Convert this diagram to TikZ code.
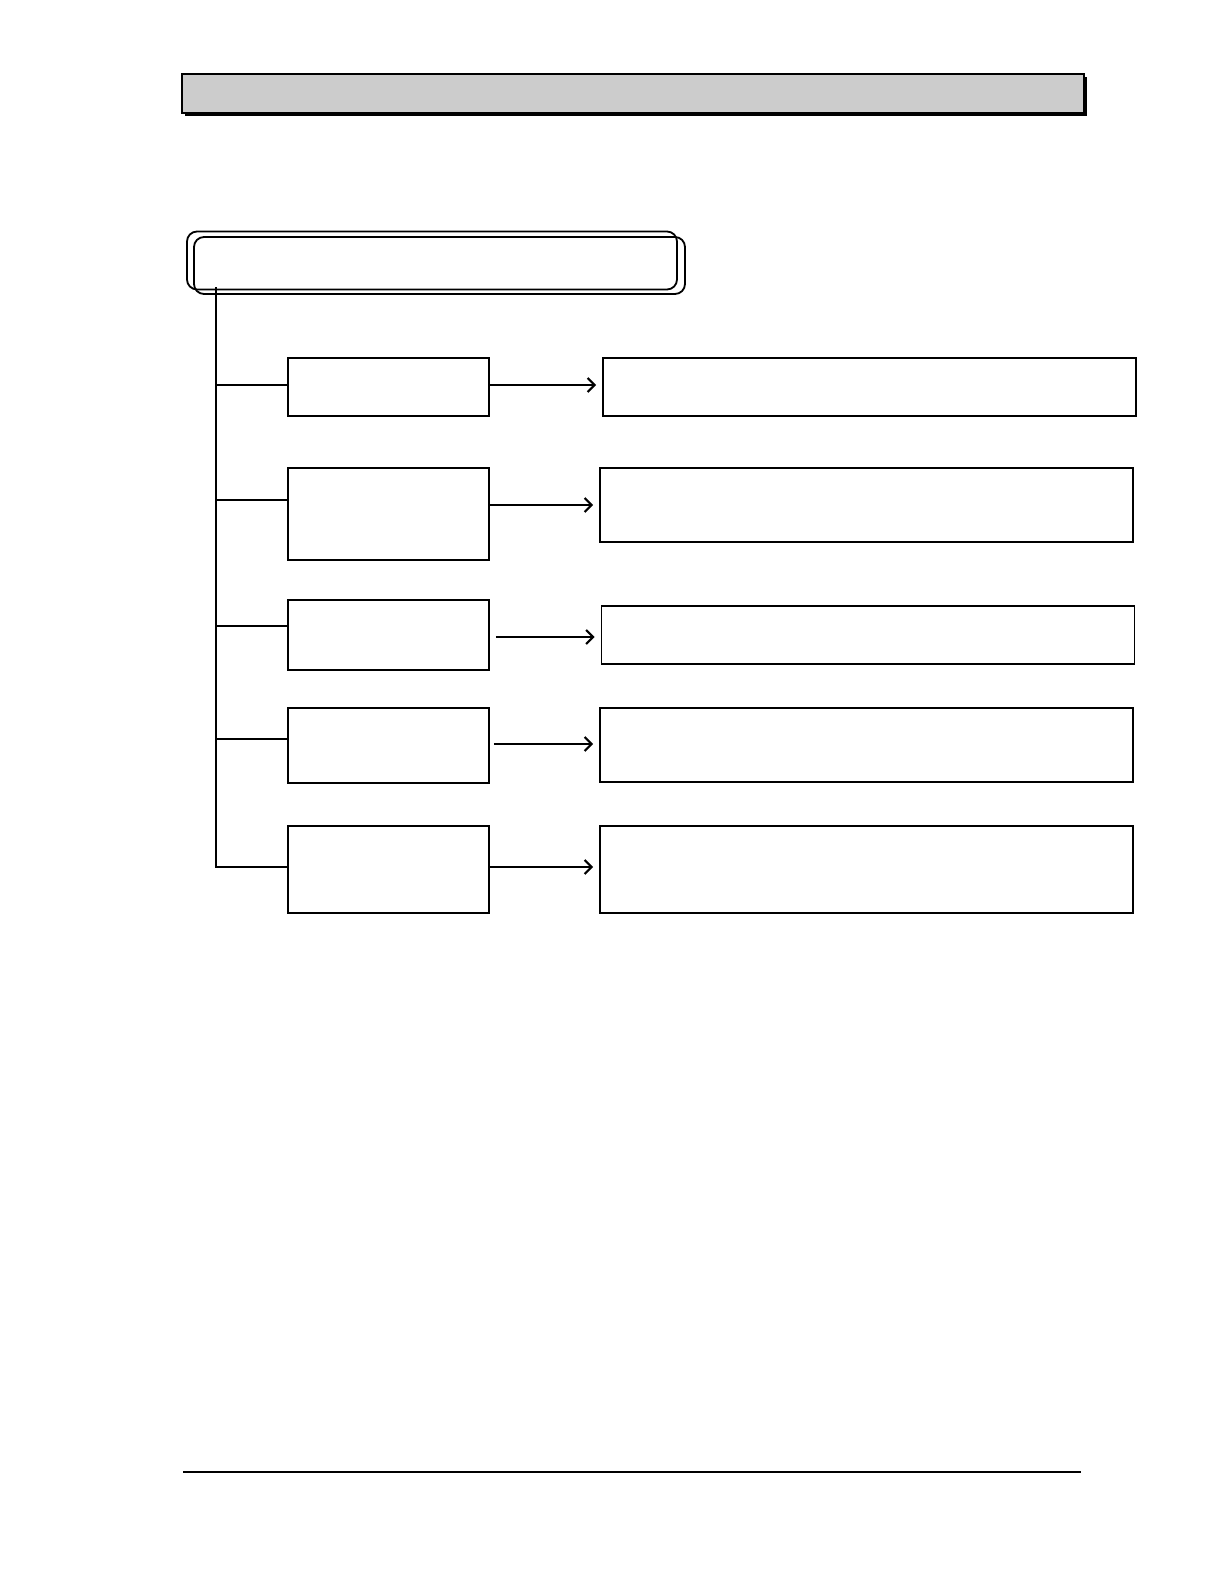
\documentclass[tikz,border=0pt]{standalone}
\usepackage{tikz}
\usetikzlibrary{arrows.meta, positioning, shadows}

\begin{document}
\begin{tikzpicture}[
    x=0.5pt, y=-0.5pt,
    titlebar/.style={draw, line width=0.6pt, fill=black!20, minimum width=451pt, minimum height=19.5pt,
        drop shadow={shadow xshift=1.5pt, shadow yshift=-1.5pt, opacity=1, fill=black}},
    roundbox/.style={draw, line width=0.9pt, rounded corners=5pt, minimum width=245pt, minimum height=29pt},
    leftbox/.style={draw, line width=0.8pt, minimum width=100.5pt},
    rightbox/.style={draw, line width=0.8pt, minimum width=266.5pt},
    link/.style={line width=0.6pt},
    pointer/.style={line width=0.8pt, -{Straight Barb[length=3.5pt, width=7pt, line width=1.1pt]}, shorten >=3pt}
]
    \useasboundingbox (0,0) rectangle (1224,1584);

    % 标题栏
    \node[titlebar] (title) at (633,93.5) {};

    % 双层圆角框
    \node[roundbox] (topA) at (432,260.5) {};
    \node[roundbox, minimum width=245.5pt, minimum height=28.5pt] (topB) at (439.5,265.5) {};

    % 左列
    \node[leftbox, minimum height=29pt]   (l1) at (388.5,387) {};
    \node[leftbox, minimum height=46pt]   (l2) at (388.5,514) {};
    \node[leftbox, minimum height=35pt]   (l3) at (388.5,635) {};
    \node[leftbox, minimum height=37.5pt] (l4) at (388.5,745.5) {};
    \node[leftbox, minimum height=43.5pt] (l5) at (388.5,869.5) {};

    % 右列
    \node[rightbox, minimum height=29pt]   (r1) at (869.5,387) {};
    \node[rightbox, minimum height=37pt]   (r2) at (866.5,505) {};
    \node[rightbox, minimum height=29pt]   (r3) at (868,635) {};
    \node[rightbox, minimum height=37pt]   (r4) at (866.5,745) {};
    \node[rightbox, minimum height=43.5pt] (r5) at (866.5,869.5) {};

    % 主干
    \coordinate (trunk) at (216,287);
    \coordinate (b1) at (216,385);
    \coordinate (b2) at (216,500);
    \coordinate (b3) at (216,626);
    \coordinate (b4) at (216,739);
    \coordinate (b5) at (216,867);

    \draw[line width=0.9pt] (trunk) -- (b5) -- (b5 -| l5.west);
    \draw[link] (b1) -- (b1 -| l1.west);
    \draw[link] (b2) -- (b2 -| l2.west);
    \draw[link] (b3) -- (b3 -| l3.west);
    \draw[link] (b4) -- (b4 -| l4.west);

    % 箭头
    \draw[pointer] (l1.east |- 0,385) -- (r1.west |- 0,385);
    \draw[pointer] (l2.east |- 0,505) -- (r2.west |- 0,505);
    \draw[pointer] ([xshift=3pt]l3.east |- 0,637) -- (r3.west |- 0,637);
    \draw[pointer] ([xshift=2pt]l4.east |- 0,744) -- (r4.west |- 0,744);
    \draw[pointer] (l5.east |- 0,867) -- (r5.west |- 0,867);

    % 页脚线
    \coordinate (footL) at (183,1472);
    \coordinate (footR) at (1081,1472);
    \draw[line width=0.6pt] (footL) -- (footR);
\end{tikzpicture}
\end{document}
